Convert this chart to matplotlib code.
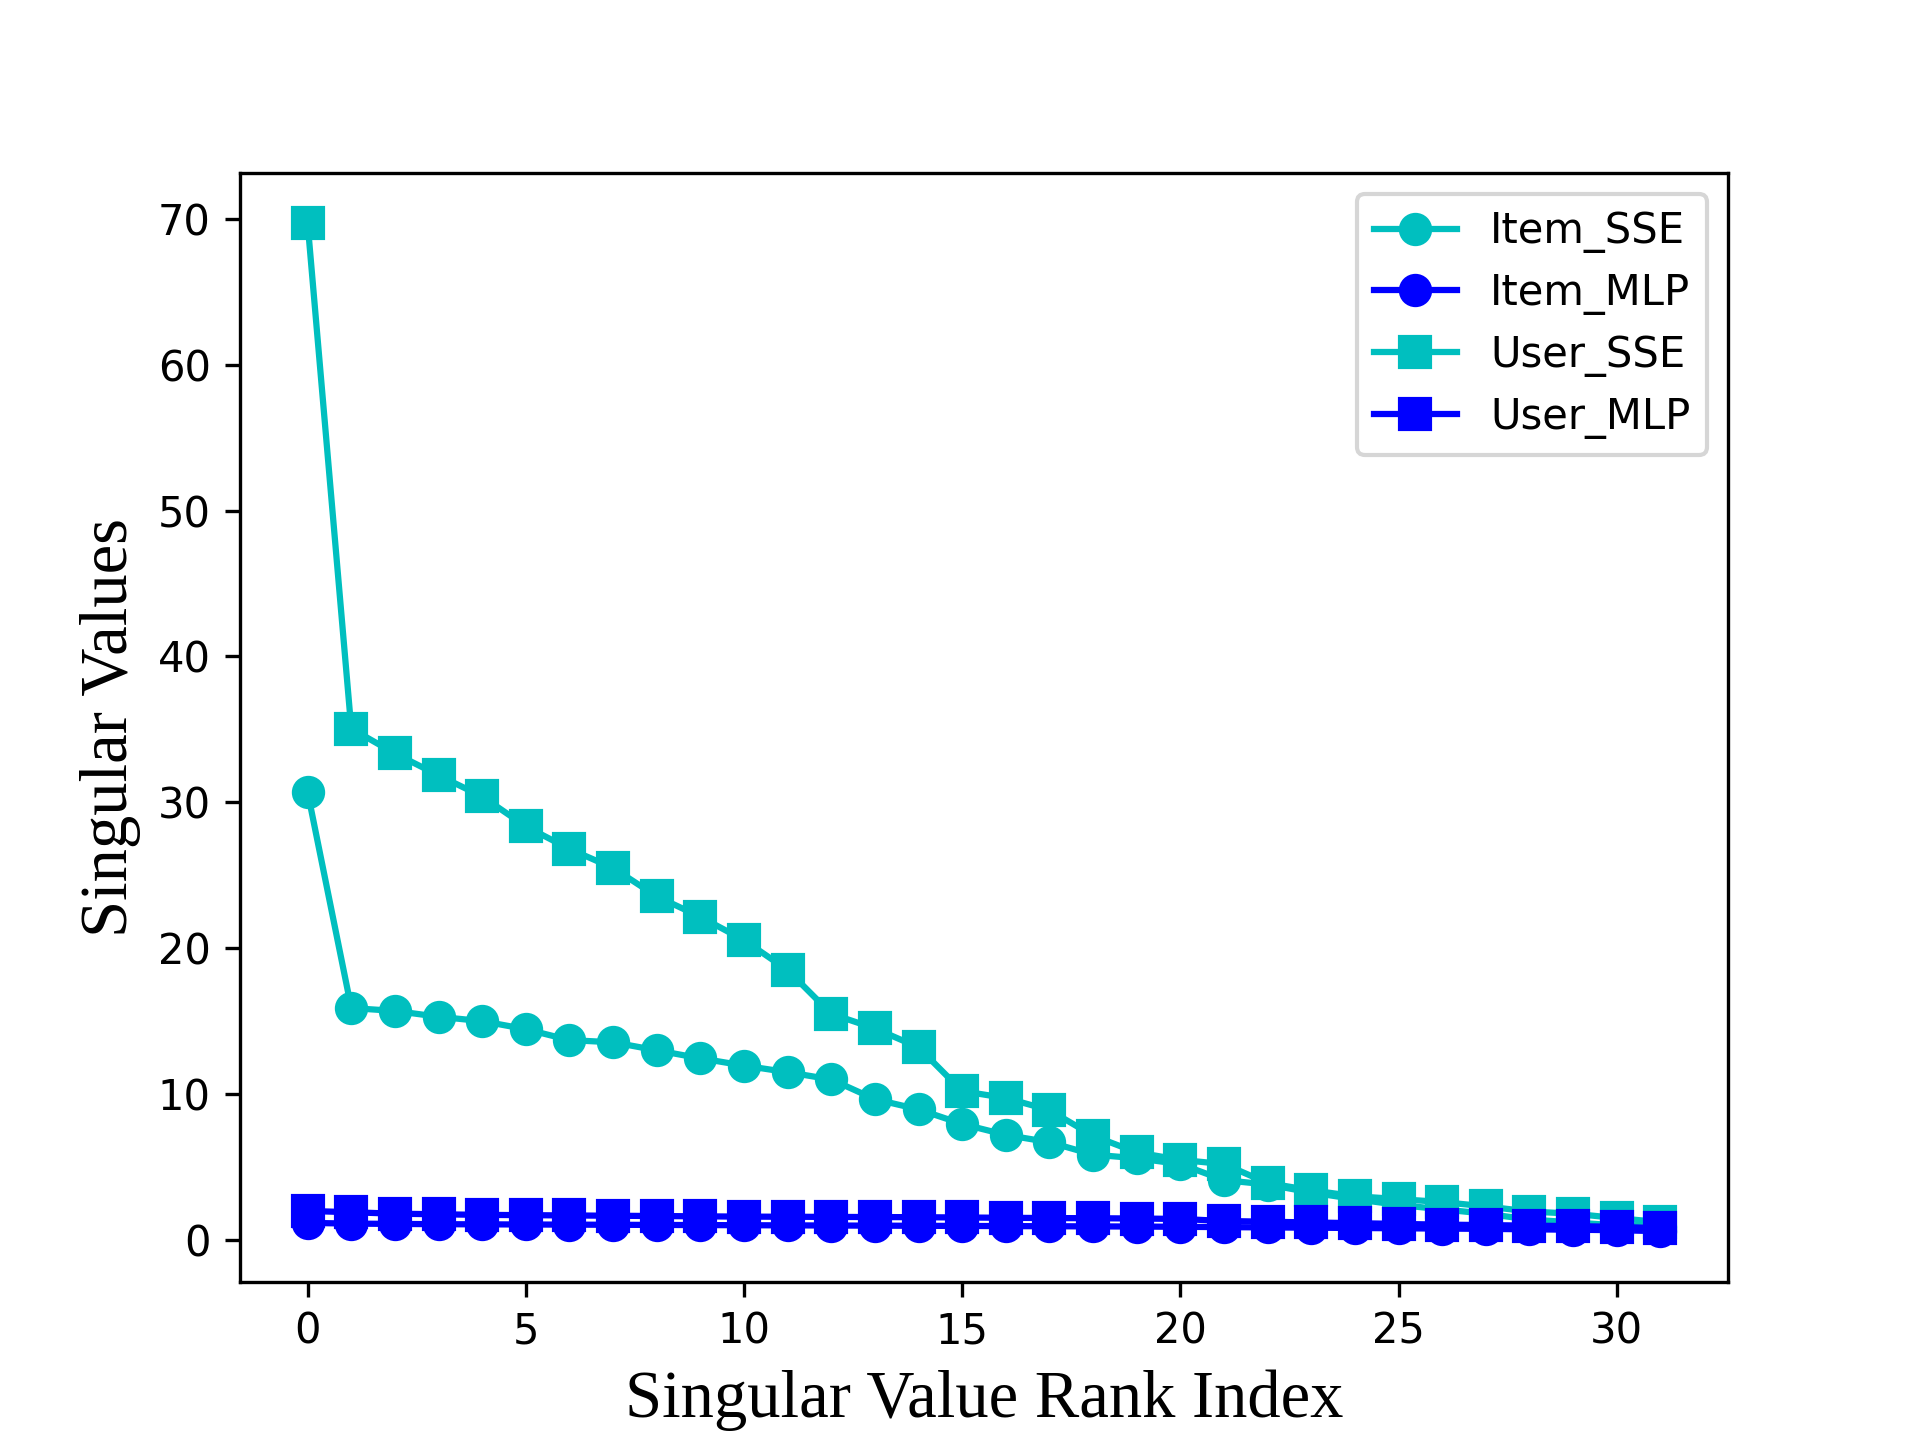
import matplotlib
matplotlib.use("Agg")
import matplotlib.pyplot as plt
import numpy as np

rank_index = list(range(32))

item_sse = [30.7, 15.9, 15.7, 15.3, 15.0, 14.45, 13.7, 13.55, 13.0, 12.45,
            11.95, 11.5, 11.0, 9.65, 8.95, 7.95, 7.2, 6.7, 5.85, 5.6,
            5.2, 4.1, 3.8, 3.25, 2.8, 2.4, 2.1, 1.8, 1.4, 1.2, 1.0, 0.9]
item_mlp = [1.17, 1.12, 1.10, 1.08, 1.07, 1.06, 1.05, 1.04, 1.03, 1.02,
            1.01, 1.00, 0.99, 0.98, 0.97, 0.96, 0.95, 0.94, 0.93, 0.92,
            0.90, 0.88, 0.86, 0.84, 0.82, 0.80, 0.78, 0.76, 0.73, 0.70, 0.67, 0.60]
user_sse = [69.7, 35.05, 33.35, 31.85, 30.4, 28.35, 26.8, 25.5, 23.55, 22.15,
            20.55, 18.5, 15.5, 14.5, 13.2, 10.2, 9.73, 8.9, 7.14, 6.0,
            5.49, 5.2, 3.9, 3.4, 3.0, 2.8, 2.6, 2.3, 1.95, 1.8, 1.5, 1.22]
user_mlp = [1.99, 1.90, 1.80, 1.76, 1.72, 1.70, 1.68, 1.66, 1.64, 1.62,
            1.60, 1.59, 1.58, 1.57, 1.56, 1.54, 1.52, 1.50, 1.49, 1.47,
            1.44, 1.30, 1.25, 1.20, 1.15, 1.10, 1.05, 1.02, 0.98, 0.95, 0.90, 0.80]

series = [
    ("Item_SSE", item_sse, "c", "o"),
    ("Item_MLP", item_mlp, "b", "o"),
    ("User_SSE", user_sse, "c", "s"),
    ("User_MLP", user_mlp, "b", "s"),
]

fig, ax = plt.subplots(figsize=(6.4, 4.8), dpi=300)
for name, vals, color, marker in series:
    ax.plot(rank_index, vals, color=color, marker=marker, markersize=7,
            linewidth=1.5, label=name)

label_font = {"family": ["Liberation Serif", "DejaVu Serif"], "size": 16}
ax.set_xlabel("Singular Value Rank Index", fontdict=label_font)
ax.set_ylabel("Singular Values", fontdict=label_font)
ax.legend(loc="upper right", labelspacing=0.45)

fig.savefig("out.png", dpi=300)
